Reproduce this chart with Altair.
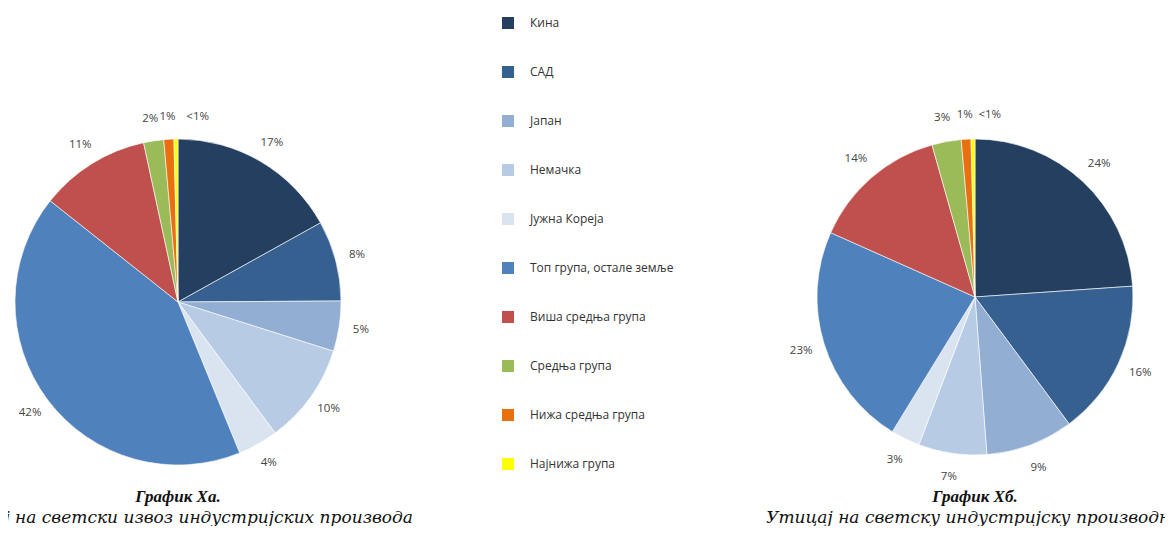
import altair as alt
import pandas as pd

categories = ["Кина", "САД", "Јапан", "Немачка", "Јужна Кореја",
              "Топ група, остале земље", "Виша средња група", "Средња група",
              "Нижа средња група", "Најнижа група"]
colors = ["#243F60", "#36608F", "#93AED3", "#B7CBE4", "#DAE4F0",
          "#4F81BD", "#C0504D", "#9BBB59", "#E8700F", "#FFFF00"]

export_share = [17, 8, 5, 10, 4, 42, 11, 2, 1, 0.4]
export_labels = ["17%", "8%", "5%", "10%", "4%", "42%", "11%", "2%", "1%", "<1%"]
production_share = [24, 16, 9, 7, 3, 23, 14, 3, 1, 0.4]
production_labels = ["24%", "16%", "9%", "7%", "3%", "23%", "14%", "3%", "1%", "<1%"]

title_a = "График Ха."
subtitle_a = "Утицај на светски извоз индустријских производа"
title_b = "График Хб."
subtitle_b = "Утицај на светску индустријску производњу"


def frame(shares, labels):
    return pd.DataFrame({"category": categories, "value": shares,
                         "label": labels, "idx": list(range(len(categories)))})


df_a = frame(export_share, export_labels)
df_b = frame(production_share, production_labels)

color_enc = alt.Color(
    "category:N",
    scale=alt.Scale(domain=categories, range=colors),
    legend=alt.Legend(orient="none", legendX=494, legendY=9, title=None,
                      symbolType="square", symbolSize=144, symbolStrokeWidth=0,
                      labelFontSize=12, labelFont="Open Sans", labelColor="#333333",
                      rowPadding=37, labelOffset=16, labelLimit=300),
)


def pie(df, cx, cy, r, label_r, small_dx):
    base = alt.Chart(df)
    theta = alt.Theta("value:Q", stack=True)
    arcs = base.mark_arc(outerRadius=r, stroke="white", strokeWidth=0.6).encode(
        theta=theta, color=color_enc, order=alt.Order("idx:Q"),
        x=alt.value(cx), y=alt.value(cy))
    main = base.transform_calculate(
        t="datum.label == '<1%' ? '' : datum.label"
    ).mark_text(radius=label_r, fontSize=11.5, font="Open Sans", color="#444444").encode(
        theta=theta, order=alt.Order("idx:Q"), text="t:N",
        x=alt.value(cx), y=alt.value(cy))
    small = base.transform_calculate(
        t="datum.label == '<1%' ? datum.label : ''"
    ).mark_text(radius=label_r, fontSize=11.5, font="Open Sans", color="#444444",
                dx=small_dx).encode(
        theta=theta, order=alt.Order("idx:Q"), text="t:N",
        x=alt.value(cx), y=alt.value(cy))
    return alt.layer(arcs, main, small)


def caption(title, subtitle, cx):
    t = alt.Chart(pd.DataFrame({"t": [title]})).mark_text(
        font="Liberation Serif", fontSize=17, fontWeight="bold", fontStyle="italic",
        color="#111111").encode(text="t:N", x=alt.value(cx), y=alt.value(489))
    s = alt.Chart(pd.DataFrame({"t": [subtitle]})).mark_text(
        font="DejaVu Serif", fontSize=17, fontStyle="italic",
        color="#111111").encode(text="t:N", x=alt.value(cx), y=alt.value(510))
    return t + s


chart = alt.layer(
    pie(df_a, 170, 294, 163, 185, 22),
    pie(df_b, 967, 289, 158, 182, 17),
    caption(title_a, subtitle_a, 170),
    caption(title_b, subtitle_b, 967),
).resolve_scale(theta="independent").properties(
    width=1157, height=518, autosize=alt.AutoSizeParams(type="none"), padding=0,
    background="white"
).configure_view(stroke=None)

chart.save("out.html", embed_options={"renderer": "svg", "actions": False})
